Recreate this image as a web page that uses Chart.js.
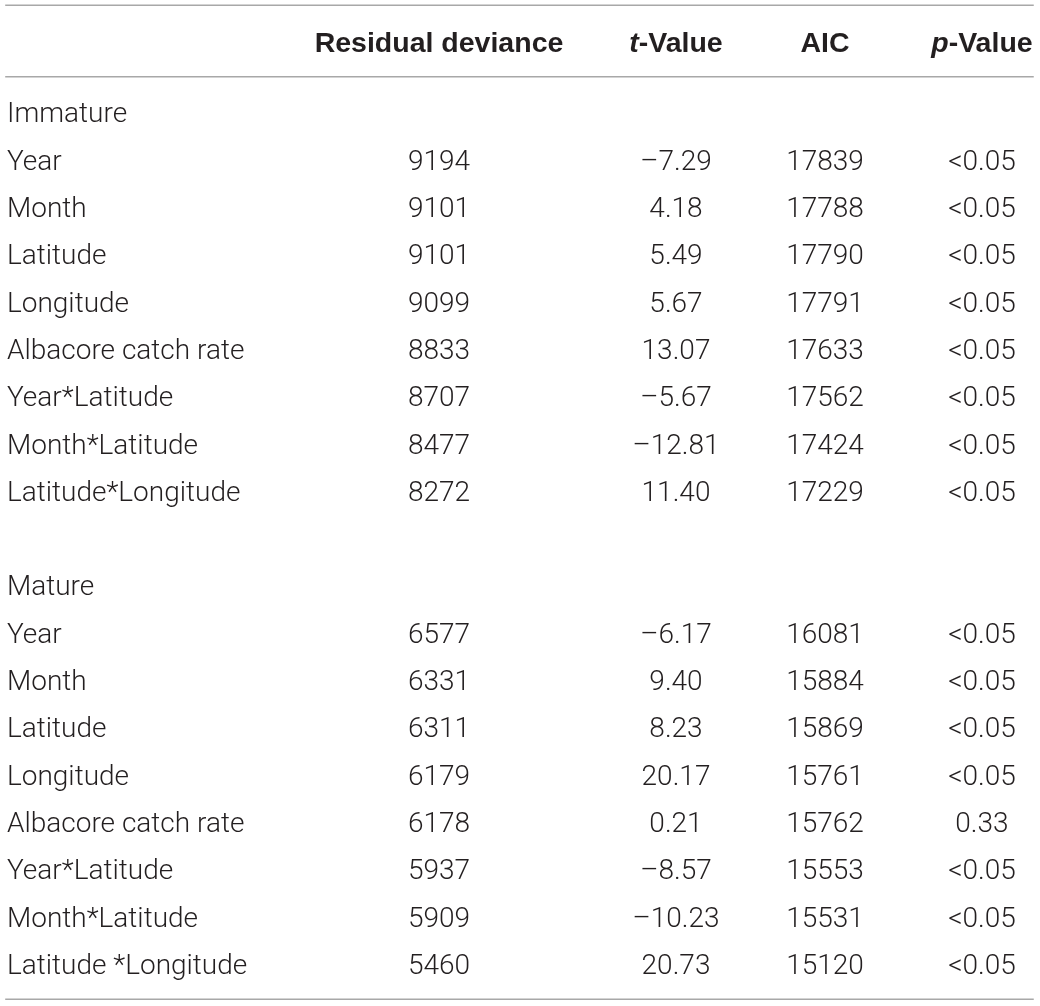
<!DOCTYPE html>
<html>
<head>
<meta charset="utf-8">
<script src="https://cdn.jsdelivr.net/npm/chart.js@4.4.0/dist/chart.umd.min.js"></script>
<style>
  html, body { margin: 0; padding: 0; background: #fff; }
  #wrap { width: 1040px; height: 1006px; }
</style>
</head>
<body>
<div id="wrap"><canvas id="tabela"></canvas></div>
<script>
// ---- dados da tabela ----
var headers = ['', 'Residual deviance', 't-Value', 'AIC', 'p-Value'];
var groups = ['Immature', 'Mature'];

var immatureTerms = ['Year', 'Month', 'Latitude', 'Longitude', 'Albacore catch rate',
  'Year*Latitude', 'Month*Latitude', 'Latitude*Longitude'];
var immatureDeviance = [9194, 9101, 9101, 9099, 8833, 8707, 8477, 8272];
var immatureT = [-7.29, 4.18, 5.49, 5.67, 13.07, -5.67, -12.81, 11.40];
var immatureAIC = [17839, 17788, 17790, 17791, 17633, 17562, 17424, 17229];
var immatureP = ['<0.05', '<0.05', '<0.05', '<0.05', '<0.05', '<0.05', '<0.05', '<0.05'];

var matureTerms = ['Year', 'Month', 'Latitude', 'Longitude', 'Albacore catch rate',
  'Year*Latitude', 'Month*Latitude', 'Latitude *Longitude'];
var matureDeviance = [6577, 6331, 6311, 6179, 6178, 5937, 5909, 5460];
var matureT = [-6.17, 9.40, 8.23, 20.17, 0.21, -8.57, -10.23, 20.73];
var matureAIC = [16081, 15884, 15869, 15761, 15762, 15553, 15531, 15120];
var matureP = ['<0.05', '<0.05', '<0.05', '<0.05', '0.33', '<0.05', '<0.05', '<0.05'];

// ---- layout (posição das colunas em fração da largura) ----
var colAnchor = [0.0067, 0.4221, 0.650, 0.7933, 0.9442];
var colAlign = ['left', 'center', 'center', 'center', 'center'];
var headerRow = -1.497;          // em unidades de linha
var ruleRows = [-2.266, -0.757, 18.748];
var textColor = '#231f20';
var ruleColor = '#a8a8a8';
var bodyFont = '300 28px Roboto, "Liberation Sans", sans-serif';
var headFont = 'bold 28.5px "Liberation Sans", Arial, sans-serif';
var headItalic = 'italic bold 28.5px "Liberation Sans", Arial, sans-serif';

function fmtT(v) {
  var s = Math.abs(v).toFixed(2);
  return v < 0 ? '\u2013' + s : s;
}

// monta as celulas
var cells = [];
headers.forEach(function(h, c) {
  if (h) cells.push({ x: colAnchor[c], y: headerRow, text: h, col: c, head: true });
});
function addBlock(startRow, title, terms, dev, tv, aic, p) {
  cells.push({ x: colAnchor[0], y: startRow, text: title, col: 0 });
  terms.forEach(function(t, i) {
    var r = startRow + 1 + i;
    cells.push({ x: colAnchor[0], y: r, text: t, col: 0 });
    cells.push({ x: colAnchor[1], y: r, text: String(dev[i]), col: 1 });
    cells.push({ x: colAnchor[2], y: r, text: fmtT(tv[i]), col: 2 });
    cells.push({ x: colAnchor[3], y: r, text: String(aic[i]), col: 3 });
    cells.push({ x: colAnchor[4], y: r, text: p[i], col: 4 });
  });
}
addBlock(0, groups[0], immatureTerms, immatureDeviance, immatureT, immatureAIC, immatureP);
addBlock(10, groups[1], matureTerms, matureDeviance, matureT, matureAIC, matureP);

// desenha o texto das celulas e as linhas horizontais
var tablePlugin = {
  id: 'tablePlugin',
  afterDatasetsDraw: function(chart) {
    var ctx = chart.ctx;
    var xs = chart.scales.x, ys = chart.scales.y;
    ctx.save();

    // linhas
    ctx.strokeStyle = ruleColor;
    ctx.lineWidth = 1.6;
    ruleRows.forEach(function(r) {
      var py = ys.getPixelForValue(r);
      ctx.beginPath();
      ctx.moveTo(xs.getPixelForValue(0.005), py);
      ctx.lineTo(xs.getPixelForValue(0.994), py);
      ctx.stroke();
    });

    ctx.fillStyle = textColor;
    ctx.textBaseline = 'alphabetic';
    chart.data.datasets[0].data.forEach(function(d) {
      var px = xs.getPixelForValue(d.x);
      var py = ys.getPixelForValue(d.y);
      var parts;
      if (d.head) {
        if (d.text === 't-Value' || d.text === 'p-Value') {
          parts = [[d.text.charAt(0), headItalic], [d.text.slice(1), headFont]];
        } else {
          parts = [[d.text, headFont]];
        }
      } else {
        parts = [[d.text, bodyFont]];
      }
      var total = 0;
      parts.forEach(function(p) { ctx.font = p[1]; p.push(ctx.measureText(p[0]).width); total += p[2]; });
      var x0 = colAlign[d.col] === 'left' ? px : px - total / 2;
      var base = py + 10;
      ctx.textAlign = 'left';
      parts.forEach(function(p) {
        ctx.font = p[1];
        ctx.fillText(p[0], x0, base);
        x0 += p[2];
      });
    });
    ctx.restore();
  }
};

var tabela = new Chart(document.getElementById('tabela'), {
  type: 'scatter',
  data: {
    datasets: [{
      data: cells,
      pointRadius: 0,
      pointHoverRadius: 0,
      showLine: false
    }]
  },
  options: {
    responsive: true,
    maintainAspectRatio: false,
    animation: false,
    layout: { padding: 0 },
    plugins: { legend: { display: false }, tooltip: { enabled: false } },
    events: [],
    scales: {
      x: { type: 'linear', display: false, min: 0, max: 1 },
      y: { type: 'linear', display: false, reverse: true, min: -2.378, max: 18.890 }
    }
  },
  plugins: [tablePlugin]
});
</script>
</body>
</html>
